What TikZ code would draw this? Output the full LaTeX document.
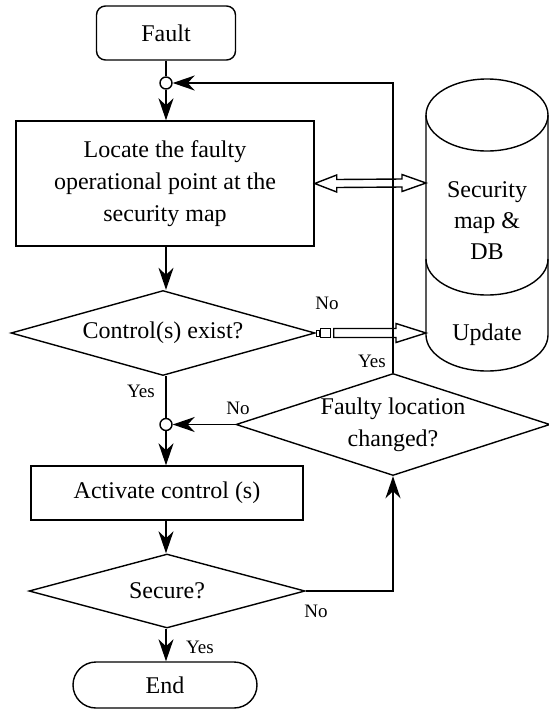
\documentclass[tikz,border=0pt]{standalone}
\usepackage{fontspec}
\setmainfont{Liberation Serif}
\usetikzlibrary{arrows.meta,shapes.geometric,shapes.misc,calc}
\begin{document}
\begin{tikzpicture}[x=1pt,y=-1pt,
  every node/.style={font=\fontsize{24}{32}\selectfont},
  base/.style={draw,line width=1.4pt,inner sep=0pt},
  procbox/.style={base,rectangle},
  decbox/.style={base,diamond,aspect=3},
  junc/.style={draw,line width=1.4pt,circle,fill=white,minimum size=12pt,inner sep=0pt},
  lbl/.style={font=\fontsize{19}{22}\selectfont,inner sep=0pt},
  conn/.style={line width=1.4pt},
  flow/.style={conn,-{Stealth[length=22pt,width=15pt,inset=7pt]}},
  hollow/.style={line width=1.4pt,fill=white,line join=miter}
]
\useasboundingbox (0,0) rectangle (549,710);

% nodes
\node[procbox,rounded corners=9pt,minimum width=139pt,minimum height=54pt] (fault) at (166,33) {Fault};
\node[procbox,minimum width=298pt,minimum height=125pt,align=center] (loc) at (165,183.5) {Locate the faulty\\operational point at the\\security map};
\node[decbox,minimum width=304pt,minimum height=85pt] (ctrl) at (163,333) {Control(s) exist?};
\node[decbox,minimum width=314pt,minimum height=99pt,align=center] (faulty) at (393,424.5) {Faulty location\\changed?};
\node[procbox,minimum width=272pt,minimum height=54pt] (act) at (167,493) {Activate control (s)};
\node[decbox,minimum width=276pt,minimum height=74pt] (sec) at (167,591) {Secure?};
\node[procbox,rounded rectangle,minimum width=184pt,minimum height=46pt] (stop) at (165,685) {End};

% database cylinder
\coordinate (dbw) at (426,183);
\coordinate (upw) at (426,333);
\draw[conn] (487,115) ellipse [x radius=61pt,y radius=36pt];
\draw[conn] (426,115) -- (426,335) arc[start angle=180,end angle=360,x radius=61pt,y radius=36pt] -- (548,115);
\draw[conn] (426,259) arc[start angle=180,end angle=360,x radius=61pt,y radius=36pt];
\node[align=center,font=\fontsize{24}{31}\selectfont] (db) at (487,221) {Security\\map \&\\DB};
\node (upd) at (487,335) {Update};

% hollow arrows
\draw[hollow] (loc.east) -- ($(loc.east)+(22,-8.5)$) -- ($(loc.east)+(22,-4)$) -- ($(dbw)+(-24,-4)$) -- ($(dbw)+(-24,-8.5)$) -- (dbw) -- ($(dbw)+(-24,8.5)$) -- ($(dbw)+(-24,4)$) -- ($(loc.east)+(22,4)$) -- ($(loc.east)+(22,8.5)$) -- cycle;
\draw[hollow] ($(ctrl.east)+(18,-4.5)$) -- ($(upw)+(-30,-4.5)$) -- ($(upw)+(-30,-9.5)$) -- (upw) -- ($(upw)+(-30,9.5)$) -- ($(upw)+(-30,4.5)$) -- ($(ctrl.east)+(18,4.5)$) -- cycle;
\draw[hollow] ($(ctrl.east)+(5,-4.5)$) rectangle ($(ctrl.east)+(15,4.5)$);
\draw[hollow,line width=1pt] ($(ctrl.east)+(1,-3)$) rectangle ($(ctrl.east)+(4,3)$);

% junctions
\node[junc] (j1) at (166,83) {};
\node[junc] (j2) at (166,424.5) {};

% connectors
\draw[conn] (fault.south) -- (j1.north);
\draw[flow] (j1.south) -- (j1.south |- loc.north);
\draw[flow] (j1 |- loc.south) -- (j1 |- ctrl.north);
\draw[conn] (j1 |- ctrl.south) -- (j2.north);
\draw[flow] (j2.south) -- (j2 |- act.north);
\draw[flow] (j2 |- act.south) -- (j2 |- sec.north);
\draw[flow] (j2 |- sec.south) -- (j2 |- stop.north);
\draw[flow] (sec.east) -| (faulty.south);
\draw[flow] (faulty.west) -- (j2.east);
\draw[flow] (faulty.north) |- (j1.east);

% labels
\node[lbl] (lno1) at (327,303) {No};
\node[lbl] (lyes1) at (372,361) {Yes};
\node[lbl] (lyes2) at (141,391) {Yes};
\node[lbl] (lno2) at (238,408) {No};
\node[lbl] (lno3) at (316,611) {No};
\node[lbl] (lyes3) at (200,647) {Yes};
\end{tikzpicture}
\end{document}
